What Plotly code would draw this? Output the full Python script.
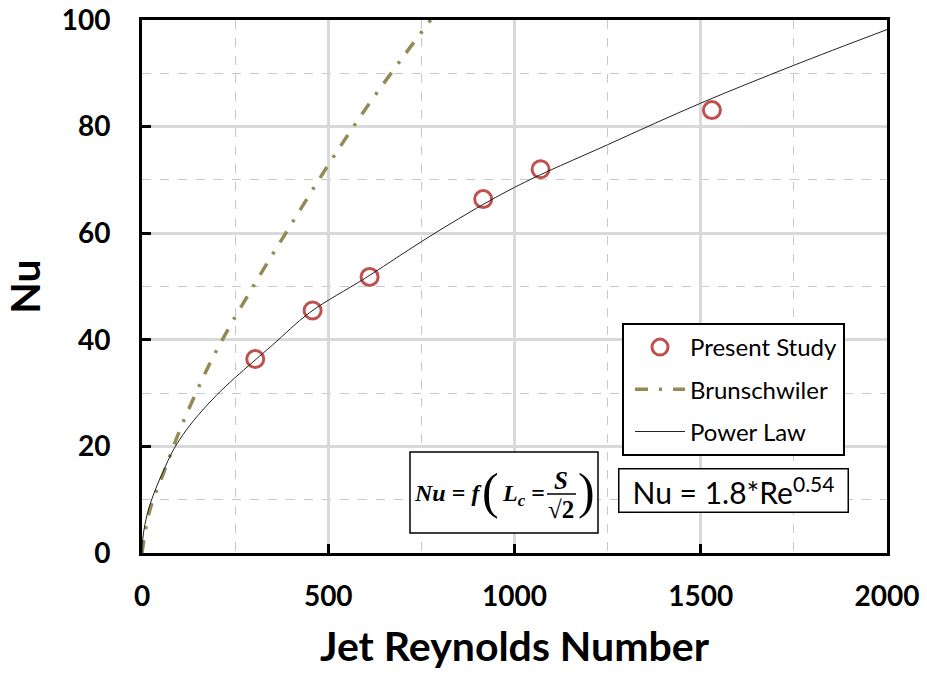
import plotly.graph_objects as go

# Measured Nusselt numbers
re_study = [304, 458, 611, 916, 1070, 1530]
nu_study = [36.4, 45.5, 51.8, 66.4, 72.0, 83.1]

# Brunschwiler correlation
re_brun = [0, 20, 60, 100, 150, 200, 300, 400, 500, 600, 700, 775]
nu_brun = [0, 7.8, 15.4, 22.8, 30.8, 38.0, 50.2, 61.6, 72.8, 83.3, 93.0, 100.0]

# Power-law fit
re_fit = [0, 2, 8, 20, 40, 60, 80, 110, 150, 200, 250, 350, 450, 600, 800, 1000, 1250, 1500, 1750, 2000]
nu_fit = [0, 2.6, 5.4, 8.8, 12.6, 15.8, 18.8, 22.2, 25.8, 29.6, 32.9, 39.0, 45.1, 51.6, 60.6, 68.6, 76.6, 84.4, 91.5, 98.2]

x_ticks = [0, 500, 1000, 1500, 2000]
y_ticks = [0, 20, 40, 60, 80, 100]

fig = go.Figure()
fig.add_trace(go.Scatter(
    x=re_study, y=nu_study, mode="markers", name="Present Study", legendgroup="a",
    marker=dict(symbol="circle-open", size=17, color="#C0504D", line=dict(width=3, color="#C0504D")),
))
fig.add_trace(go.Scatter(
    x=re_brun, y=nu_brun, mode="lines", name="Brunschwiler", legendgroup="b",
    line=dict(color="#948A54", width=3.5, dash="13px,11px,3px,11px", shape="spline"),
))
fig.add_trace(go.Scatter(
    x=re_fit, y=nu_fit, mode="lines", name="Power Law", legendgroup="c",
    line=dict(color="#222222", width=1, shape="spline"),
))

axis_common = dict(
    showline=True, linecolor="black", linewidth=3, mirror=True,
    ticks="inside", ticklen=9, tickwidth=3, tickcolor="black",
    showgrid=True, gridcolor="#D9D9D9", gridwidth=3,
    zeroline=False, automargin=False,
    tickfont=dict(family="Lato", size=28, color="black", weight="bold"),
)

fig.update_xaxes(
    range=[0, 2000], tickvals=x_ticks, ticktext=[str(v) for v in x_ticks],
    minor=dict(tickvals=[250, 750, 1250, 1750], showgrid=True, griddash="dash",
               gridcolor="#C8C8C8", gridwidth=1, ticks=""),
    title=dict(text="Jet Reynolds Number", font=dict(family="Lato", size=41, color="black", weight="bold"),
               standoff=22),
    ticklabelstandoff=16,
    **axis_common,
)
fig.update_yaxes(
    range=[0, 100], tickvals=y_ticks, ticktext=[str(v) for v in y_ticks],
    minor=dict(tickvals=[10, 30, 50, 70, 90], showgrid=True, griddash="dash",
               gridcolor="#C8C8C8", gridwidth=1, ticks=""),
    title=dict(text="Nu", font=dict(family="Lato", size=41, color="black", weight="bold"), standoff=14),
    ticklabelstandoff=23,
    **axis_common,
)

# pixel -> paper helpers for the plot area
L, R, T, B = 142, 887, 20, 553


def px(x):
    return (x - L) / (R - L)


def py(y):
    return (B - y) / (B - T)


annotations = [
    dict(text="Nu = 1.8*Re<sup>0.54</sup>", x=px(733), y=py(490), xref="paper", yref="paper",
         xanchor="center", yanchor="middle",
         showarrow=False, font=dict(family="Lato", size=30, color="black"),
         bgcolor="white", bordercolor="black", borderwidth=1.5, width=226, height=40, borderpad=1),
]

serif = "Liberation Serif"
formula_parts = [
    ("<b><i>Nu</i> = <i>f</i></b>", 447, 493, 24),
    ("(", 490, 491, 50),
    ("<b><i>L<sub>c</sub></i> =</b>", 523, 495, 24),
    ("<b><i>S</i></b>", 561, 480, 25),
    ("<b>√2</b>", 561, 509, 25),
    (")", 586, 491, 50),
]

shapes = [
    # formula frame
    dict(type="rect", xref="paper", yref="paper", x0=px(410), x1=px(598), y0=py(533), y1=py(452),
         line=dict(color="black", width=1.5), fillcolor="white", layer="above"),
    # fraction bar
    dict(type="line", xref="paper", yref="paper", x0=px(547), x1=px(576), y0=py(494), y1=py(494),
         line=dict(color="black", width=1.5), layer="above"),
]
for txt, cx, cy, size in formula_parts:
    annotations.append(dict(text=txt, x=px(cx), y=py(cy), xref="paper", yref="paper", showarrow=False,
                            xanchor="center", yanchor="middle",
                            font=dict(family=serif, size=size, color="black")))

fig.update_layout(
    width=927, height=674,
    margin=dict(l=L, r=927 - R, t=T, b=674 - B),
    plot_bgcolor="white", paper_bgcolor="white",
    legend=dict(x=px(622), y=py(323), xanchor="left", yanchor="top",
                bgcolor="white", bordercolor="black", borderwidth=2,
                font=dict(family="Lato", size=24, color="black"),
                tracegroupgap=8, itemwidth=50, indentation=6),
    annotations=annotations,
    shapes=shapes,
)

fig.write_html("out.html")
